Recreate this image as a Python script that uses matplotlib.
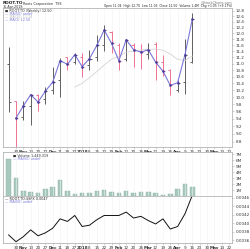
import matplotlib.pyplot as plt
import numpy as np
import pandas as pd

# weekly bars, 23-Oct-2017 .. 16-Apr-2018 (index 0 = week of Oct 23)
weeks = list(range(26))
opens = [11.00, 9.88, 9.45, 9.75, 10.05, 9.95, 10.20, 10.50, 11.20, 11.05, 11.20, 10.95, 11.20,
         11.60, 12.05, 11.60, 11.15, 11.60, 11.40, 11.30, 11.65, 11.05, 10.80, 10.20, 10.45, 11.04]
highs = [11.55, 9.90, 9.88, 10.07, 10.10, 10.30, 10.91, 11.17, 11.20, 11.35, 11.35, 11.45, 11.95,
         12.30, 12.08, 11.66, 11.80, 11.66, 11.65, 11.66, 11.70, 11.27, 10.85, 10.50, 11.80, 12.70]
lows = [9.58, 8.62, 9.36, 9.23, 9.60, 9.80, 10.10, 9.99, 10.80, 11.00, 10.60, 10.80, 11.10,
        11.40, 11.34, 10.80, 11.10, 10.90, 10.85, 11.16, 10.50, 10.62, 10.06, 10.14, 10.08, 11.03]
closes = [9.85, 9.42, 9.75, 10.07, 9.86, 10.17, 10.44, 11.10, 10.98, 11.29, 10.91, 11.16, 11.59,
          12.11, 11.66, 11.10, 11.78, 11.45, 11.37, 11.45, 11.05, 10.77, 10.34, 10.42, 11.29, 12.50]
volume_m = [6.3, 3.1, 0.9, 0.75, 0.5, 1.25, 1.45, 2.7, 0.9, 0.3, 0.45, 0.5, 0.9,
            1.0, 0.6, 0.5, 0.9, 0.5, 0.6, 0.6, 0.5, 0.2, 0.3, 1.1, 2.1, 1.45]
ratio = [0.00372, 0.00356, 0.00368, 0.00384, 0.00370, 0.00377, 0.00388, 0.00410, 0.00404, 0.00418,
         0.00392, 0.00395, 0.00408, 0.00418, 0.00418, 0.00418, 0.00426, 0.00412, 0.00416, 0.00406,
         0.00398, 0.00410, 0.00386, 0.00392, 0.00422, 0.00466]

tick_pos = list(range(1, 31))
tick_labels = ['30', 'Nov', '13', '20', '27', 'Dec', '11', '18', '27', '2018', '8', '15', '22', '29',
               'Feb', '12', '20', '26', 'Mar', '12', '19', '26', 'Apr', '9', '16', '23', '30',
               'May', '14', '22']
bold_labels = ['Nov', 'Dec', '2018', 'Feb', 'Mar', 'Apr', 'May']
price_ticks = [round(8.8 + 0.2 * i, 1) for i in range(21)]
vol_ticks = [1, 2, 3, 4, 5, 6, 7]
ratio_ticks = [0.0036, 0.0038, 0.0040, 0.0042, 0.0044, 0.0046]

fs = 3        # tick labels
ts = 2.4      # header / legend texts
edge = '#b4b4b4'
up_col = '#606060'
dn_col = '#f07090'
line_col = '#7b78d8'

fig = plt.figure(figsize=(2.5, 2.49), dpi=100)
W, H = 250, 249
def box(l, t, r, b):
  return [l / W, 1 - b / H, (r - l) / W, (b - t) / H]

ax = fig.add_axes(box(3, 8, 232, 147))
axv = fig.add_axes(box(3, 152, 232, 196), sharex=ax)
axr = fig.add_axes(box(3, 196, 232, 243), sharex=ax)

for a in (ax, axv, axr):
  for s in a.spines.values():
    s.set_color(edge)
    s.set_linewidth(0.6)
  a.yaxis.tick_right()
  a.tick_params(axis='both', length=1.5, width=0.4, color=edge, labelsize=fs, pad=1,
                labelcolor='#333333')
  a.set_xticks(tick_pos)
  a.set_xlim(-0.77, 30.4)
  a.grid(axis='x', color='#f2f2f2', lw=0.4)

# price panel (log scale)
ax.set_yscale('log')
ax.set_ylim(8.67, 12.9)
ax.set_yticks(price_ticks)
ax.set_yticklabels([f'{p:.1f}' for p in price_ticks])
ax.minorticks_off()
ax.tick_params(axis='x', pad=0.6)

tk = 0.28
for i in weeks:
  c = up_col if i == 0 or closes[i] >= closes[i - 1] else dn_col
  ax.vlines(weeks[i], lows[i], highs[i], color=c, lw=0.7)
  ax.hlines(opens[i], weeks[i] - tk, weeks[i], color=c, lw=0.7)
  ax.hlines(closes[i], weeks[i], weeks[i] + tk, color=c, lw=0.7)

ma10 = pd.Series(closes).rolling(10).mean()
ax.plot(weeks, ma10, color='#d4d4d4', lw=0.6)
ax.plot(weeks[1:], closes[1:], color=line_col, lw=0.8)
ax.plot(weeks[1:], closes[1:], 's', color='#4a3a9a', ms=0.8)

ax.set_xticklabels(tick_labels)
for lab in ax.get_xticklabels():
  if lab.get_text() in bold_labels:
    lab.set_fontweight('bold')

# header texts
fig.text(0.012, 0.994, 'ROOT.TO', fontsize=3.0, fontweight='bold', va='top', color='#222222')
fig.text(0.092, 0.992, 'Roots Corporation  TSE', fontsize=ts, va='top', color='#333333')
fig.text(0.012, 0.979, '16-Apr-2018', fontsize=ts, va='top', color='#333333')
fig.text(0.93, 0.997, '@StockCharts.com', fontsize=ts, va='top', ha='right', color='#777777')
fig.text(0.93, 0.982, 'Open 11.04  High 12.70  Low 11.03  Close 12.50  Volume 1.4M  Chg +1.05 (+9.17%)',
         fontsize=2.2, va='top', ha='right', color='#222222')

ax.text(0.008, 0.99, '■ ROOT.TO (Weekly) 12.50', transform=ax.transAxes, fontsize=ts, va='top', color='#333333')
ax.text(0.008, 0.97, '— MA(50) undef', transform=ax.transAxes, fontsize=ts, va='top', color=line_col)
ax.text(0.008, 0.95, '— MA(10) 11.24', transform=ax.transAxes, fontsize=ts, va='top', color='#bbbbbb')
ax.text(0.008, 0.93, '— MA(1) 12.50', transform=ax.transAxes, fontsize=ts, va='top', color=line_col)

# volume panel
axv.bar(weeks, volume_m, width=0.62, color='#a8c9bd', edgecolor='#8fb3a6', linewidth=0.3)
axv.set_ylim(0, 7.4)
axv.set_yticks(vol_ticks)
axv.set_yticklabels([f'{v}M' for v in vol_ticks])
axv.tick_params(axis='x', labelbottom=False)
axv.text(0.045, 0.95, '■ Volume 1,449,319', transform=axv.transAxes, fontsize=ts, va='top', color='#333333')
axv.text(0.045, 0.885, '— MA(50) undef', transform=axv.transAxes, fontsize=ts, va='top', color=line_col)

# ratio panel
axr.plot(weeks, ratio, color='#111111', lw=0.7)
axr.set_ylim(0.00353, 0.00464)
axr.set_yticks(ratio_ticks)
axr.set_yticklabels([f'{r:.4f}' for r in ratio_ticks])
axr.set_xticklabels(tick_labels)
for lab in axr.get_xticklabels():
  if lab.get_text() in bold_labels:
    lab.set_fontweight('bold')
axr.text(0.008, 0.98, '— ROOT.TO:$SPX 0.0047', transform=axr.transAxes, fontsize=ts, va='top', color='#222222')
axr.text(0.008, 0.915, '— MA(50) undef', transform=axr.transAxes, fontsize=ts, va='top', color=line_col)

fig.savefig('out.png', dpi=100, facecolor='white')
